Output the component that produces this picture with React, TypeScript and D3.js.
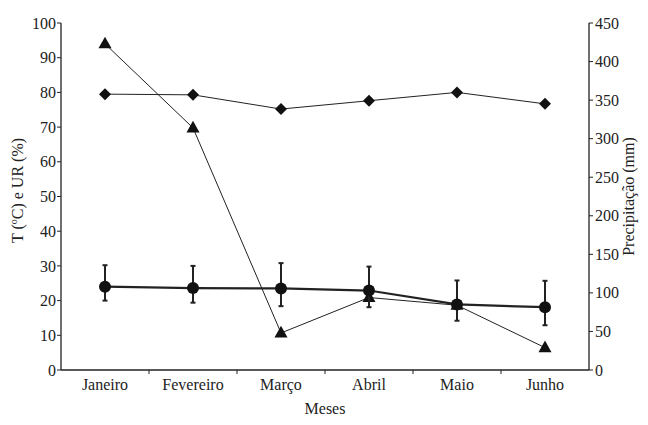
import React, { useEffect, useRef } from "react";
import * as d3 from "d3";

const months = ["Janeiro", "Fevereiro", "Março", "Abril", "Maio", "Junho"];
const temperature = [24.0, 23.6, 23.5, 22.9, 18.9, 18.1];
const tempHigh = [30.2, 30.0, 30.8, 29.8, 25.8, 25.7];
const tempLow = [20.0, 19.4, 18.4, 18.1, 14.2, 12.9];
const humidity = [79.5, 79.3, 75.2, 77.6, 80.0, 76.7];
const precipitation = [423, 314, 48, 94, 84, 29];
const leftTicks = [0, 10, 20, 30, 40, 50, 60, 70, 80, 90, 100];
const rightTicks = [0, 50, 100, 150, 200, 250, 300, 350, 400, 450];

const W = 648;
const H = 425;
const left = 61;
const right = 589;
const top = 23;
const bottom = 370;
const FONT = "'Liberation Serif', serif";

export default function App() {
  const ref = useRef<SVGSVGElement>(null);
  useEffect(() => {
    if (!ref.current) return;
    d3.select(ref.current)
      .selectAll<SVGElement, unknown>("text, tspan")
      .each(function () {
        this.style.setProperty("font-family", FONT, "important");
      });
  });

  const x = d3.scaleBand<string>().domain(months).range([left, right]);
  const yL = d3.scaleLinear().domain([0, 100]).range([bottom, top]);
  const yR = d3.scaleLinear().domain([0, 450]).range([bottom, top]);
  const cx = (m: string) => (x(m) as number) + x.bandwidth() / 2;

  const lineL = d3
    .line<number>()
    .x((_, i) => cx(months[i]))
    .y((d) => yL(d));
  const lineR = d3
    .line<number>()
    .x((_, i) => cx(months[i]))
    .y((d) => yR(d));

  const sepTicks = months.slice(1).map((m) => x(m) as number);

  return (
    <svg ref={ref} width={W} height={H} style={{ display: "block", position: "absolute", left: 0, top: 0 }}>
      <rect width={W} height={H} fill="#fff" />
      <line x1={left} x2={left} y1={top} y2={bottom} stroke="#222" strokeWidth={1.3} />
      <line x1={right} x2={right} y1={top} y2={bottom} stroke="#222" strokeWidth={1.3} />
      <line x1={left} x2={right} y1={bottom} y2={bottom} stroke="#222" strokeWidth={1.3} />
      {leftTicks.map((t) => (
        <g key={"l" + t}>
          <line x1={left - 4} x2={left} y1={yL(t)} y2={yL(t)} stroke="#222" strokeWidth={1} />
          <text x={left - 5} y={yL(t)} dy="0.35em" textAnchor="end" fontSize={16} fill="#222">
            {t}
          </text>
        </g>
      ))}
      {rightTicks.map((t) => (
        <g key={"r" + t}>
          <line x1={right} x2={right + 4} y1={yR(t)} y2={yR(t)} stroke="#222" strokeWidth={1} />
          <text x={right + 6} y={yR(t)} dy="0.35em" textAnchor="start" fontSize={16} fill="#222">
            {t}
          </text>
        </g>
      ))}
      {sepTicks.map((t, i) => (
        <line key={"x" + i} x1={t} x2={t} y1={bottom} y2={bottom + 4} stroke="#222" strokeWidth={1} />
      ))}
      {months.map((m) => (
        <text key={m} x={cx(m)} y={bottom + 20} textAnchor="middle" fontSize={16} fill="#222">
          {m}
        </text>
      ))}
      <text x={(left + right) / 2} y={414} textAnchor="middle" fontSize={16} fill="#222">
        Meses
      </text>
      <text transform={`translate(23, ${(top + bottom) / 2 - 6}) rotate(-90)`} textAnchor="middle" fontSize={16} fill="#222">
        T (<tspan dy={-6} fontSize={10}>o</tspan>
        <tspan dy={6}>C) e UR (%)</tspan>
      </text>
      <text transform={`translate(634, ${(top + bottom) / 2}) rotate(-90)`} textAnchor="middle" fontSize={16} fill="#222">
        Precipitação (mm)
      </text>

      {/* humidity */}
      <path d={lineL(humidity) || ""} fill="none" stroke="#222" strokeWidth={1} />
      {humidity.map((v, i) => {
        const px = cx(months[i]);
        const py = yL(v);
        const s = 6;
        return (
          <path key={"h" + i} d={`M${px},${py - s}L${px + s},${py}L${px},${py + s}L${px - s},${py}Z`} fill="#111" />
        );
      })}

      {/* precipitation */}
      <path d={lineR(precipitation) || ""} fill="none" stroke="#222" strokeWidth={1} />
      {precipitation.map((v, i) => {
        const px = cx(months[i]);
        const py = yR(v);
        const s = 6.5;
        return (
          <path
            key={"p" + i}
            d={`M${px},${py - s * 1.1}L${px + s},${py + s * 0.7}L${px - s},${py + s * 0.7}Z`}
            fill="#111"
          />
        );
      })}

      {/* temperature */}
      {temperature.map((v, i) => {
        const px = cx(months[i]);
        return (
          <g key={"e" + i} stroke="#222" strokeWidth={2}>
            <line x1={px} x2={px} y1={yL(tempHigh[i])} y2={yL(tempLow[i])} />
            <line x1={px - 2.5} x2={px + 2.5} y1={yL(tempHigh[i])} y2={yL(tempHigh[i])} />
            <line x1={px - 2.5} x2={px + 2.5} y1={yL(tempLow[i])} y2={yL(tempLow[i])} />
          </g>
        );
      })}
      <path d={lineL(temperature) || ""} fill="none" stroke="#222" strokeWidth={2.2} />
      {temperature.map((v, i) => (
        <circle key={"t" + i} cx={cx(months[i])} cy={yL(v)} r={6} fill="#111" />
      ))}
    </svg>
  );
}
